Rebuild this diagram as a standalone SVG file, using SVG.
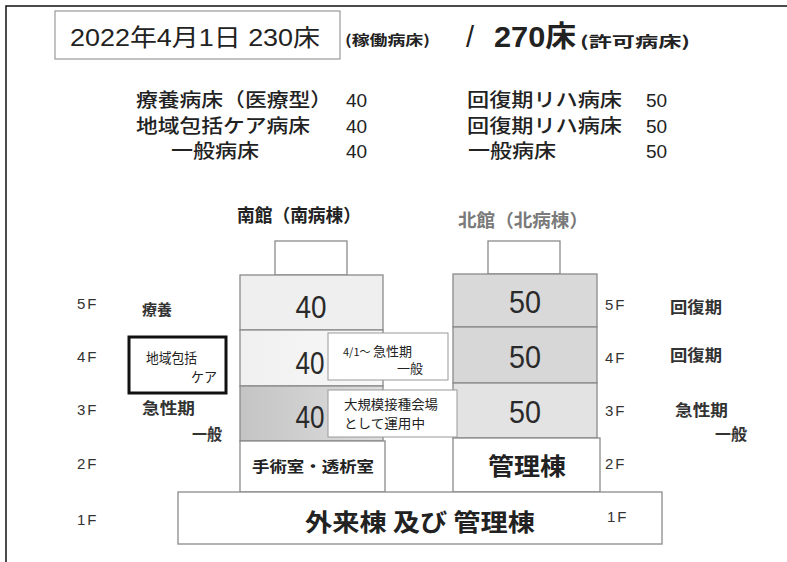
<svg xmlns="http://www.w3.org/2000/svg" width="787" height="562" viewBox="0 0 787 562">
<defs>
<style>
text{font-family:"Liberation Sans","Noto Sans CJK JP",sans-serif;fill:#222;}
.jp{font-family:"Noto Sans CJK JP","Liberation Sans",sans-serif;}
.tb{font-size:19px;font-weight:500;}
.fl{font-size:15px;fill:#333;letter-spacing:2px;}
.lb{font-size:16px;font-weight:bold;fill:#333;}
.num{font-size:31px;text-anchor:middle;fill:#2a2a2a;}
.bx{stroke:#8a8a8a;stroke-width:1.3;}
.cl{fill:#fff;stroke:#999;stroke-width:1;}
</style>
<linearGradient id="g3" x1="0" x2="1" y1="0" y2="0">
<stop offset="0" stop-color="#c4c4c4"/>
<stop offset="1" stop-color="#dedede"/>
</linearGradient>
<linearGradient id="g4" x1="0" x2="1" y1="0" y2="0">
<stop offset="0" stop-color="#f0f0f0"/>
<stop offset="1" stop-color="#f8f8f8"/>
</linearGradient>
</defs>
<rect width="787" height="562" fill="#fff"/>
<g id="frame" fill="none" stroke="#111" stroke-width="1.5">
<path d="M6 562 V6 H787"/>
</g>
<g id="title">
<rect x="55" y="11" width="285" height="48" fill="#fff" stroke="#999" stroke-width="1.2"/>
<text x="70" y="46" font-size="24" textLength="250" lengthAdjust="spacingAndGlyphs" fill="#111">2022年4月1日 230床</text>
<text x="345" y="45" font-size="14" class="jp" textLength="85" lengthAdjust="spacingAndGlyphs" font-weight="bold">(稼働病床)</text>
<text x="466" y="47" font-size="29" fill="#333">/</text>
<text x="494" y="47" font-size="29" font-weight="bold" textLength="82" lengthAdjust="spacingAndGlyphs" fill="#333">270床</text>
<text x="580" y="47" font-size="15" class="jp" font-weight="bold" textLength="110" lengthAdjust="spacingAndGlyphs" fill="#333">(許可病床)</text>
</g>
<g id="table" class="jp">
<text class="tb" x="136" y="107" textLength="196" lengthAdjust="spacingAndGlyphs">療養病床（医療型）</text>
<text class="tb" x="346" y="107">40</text>
<text class="tb" x="467" y="107" textLength="155" lengthAdjust="spacingAndGlyphs">回復期リハ病床</text>
<text class="tb" x="646" y="107">50</text>
<text class="tb" x="136" y="133" textLength="174" lengthAdjust="spacingAndGlyphs">地域包括ケア病床</text>
<text class="tb" x="346" y="133">40</text>
<text class="tb" x="467" y="133" textLength="155" lengthAdjust="spacingAndGlyphs">回復期リハ病床</text>
<text class="tb" x="646" y="133">50</text>
<text class="tb" x="171" y="158" textLength="88" lengthAdjust="spacingAndGlyphs">一般病床</text>
<text class="tb" x="346" y="158">40</text>
<text class="tb" x="468" y="158" textLength="88" lengthAdjust="spacingAndGlyphs">一般病床</text>
<text class="tb" x="646" y="158">50</text>
</g>
<g id="south-title"><text class="jp" x="237" y="222" font-size="18" font-weight="bold" textLength="124" lengthAdjust="spacingAndGlyphs">南館（南病棟）</text></g>
<g id="north-title"><text class="jp" x="458" y="227" font-size="18" font-weight="bold" textLength="130" lengthAdjust="spacingAndGlyphs" style="fill:#7a7a7a">北館（北病棟）</text></g>
<g id="south-roof"><rect class="bx" x="275" y="241" width="72" height="34" fill="#fff"/></g>
<g id="north-roof"><rect class="bx" x="488" y="241" width="72" height="33" fill="#fff"/></g>
<g id="south-5f"><rect class="bx" x="240" y="275" width="143" height="55" fill="#efefef"/><text class="num" x="311" y="318" textLength="31" lengthAdjust="spacingAndGlyphs">40</text></g>
<g id="south-4f"><rect class="bx" x="240" y="330" width="143" height="56" fill="url(#g4)"/><text class="num" x="310" y="374" textLength="29" lengthAdjust="spacingAndGlyphs">40</text></g>
<g id="south-3f"><rect class="bx" x="240" y="386" width="143" height="55" fill="url(#g3)"/><text class="num" x="310" y="428" textLength="29" lengthAdjust="spacingAndGlyphs">40</text></g>
<g id="south-2f"><rect class="bx" x="240" y="441" width="145" height="51" fill="#fff"/><text class="jp" x="313" y="472" font-size="15" font-weight="bold" text-anchor="middle" textLength="122" lengthAdjust="spacingAndGlyphs">手術室・透析室</text></g>
<g id="north-5f"><rect class="bx" x="453" y="274" width="144" height="53" fill="#d9d9d9"/><text class="num" x="525" y="313" textLength="32" lengthAdjust="spacingAndGlyphs">50</text></g>
<g id="north-4f"><rect class="bx" x="453" y="327" width="144" height="56" fill="#d7d7d7"/><text class="num" x="525" y="368" textLength="32" lengthAdjust="spacingAndGlyphs">50</text></g>
<g id="north-3f"><rect class="bx" x="453" y="383" width="144" height="55" fill="#e3e3e3"/><text class="num" x="525" y="423" textLength="32" lengthAdjust="spacingAndGlyphs">50</text></g>
<g id="north-2f"><rect class="bx" x="453" y="438" width="147" height="54" fill="#fff"/><text class="jp" x="527" y="475" font-size="24" font-weight="bold" text-anchor="middle" textLength="78" lengthAdjust="spacingAndGlyphs">管理棟</text></g>
<g id="first-floor"><rect class="bx" x="178" y="492" width="484" height="52" fill="#fff"/><text class="jp" x="420" y="531" font-size="24" font-weight="bold" text-anchor="middle" textLength="230" lengthAdjust="spacingAndGlyphs">外来棟 及び 管理棟</text></g>
<g id="callout-1"><rect class="cl" x="328" y="333" width="120" height="47"/>
<text class="jp" x="343" y="356" font-size="11" fill="#222">4/1～ <tspan font-size="13">急性期</tspan></text>
<text class="jp" x="397" y="373" font-size="13">一般</text></g>
<g id="callout-2"><rect class="cl" x="328" y="390" width="129" height="47"/>
<text class="jp" x="344" y="409" font-size="13" textLength="94" lengthAdjust="spacingAndGlyphs">大規模接種会場</text>
<text class="jp" x="344" y="428" font-size="13" textLength="81" lengthAdjust="spacingAndGlyphs">として運用中</text></g>
<g id="left-labels">
<text class="fl" x="77" y="309">5F</text>
<text class="fl" x="77" y="362">4F</text>
<text class="fl" x="77" y="415">3F</text>
<text class="fl" x="77" y="469">2F</text>
<text class="fl" x="77" y="525">1F</text>
<text class="lb jp" x="142" y="315" style="font-size:15px">療養</text>
<text class="lb jp" x="142" y="414" textLength="53" lengthAdjust="spacingAndGlyphs">急性期</text>
<text class="lb jp" x="192" y="440" textLength="30" lengthAdjust="spacingAndGlyphs">一般</text>
</g>
<g id="chiiki-box"><rect x="129" y="337" width="97" height="56" fill="#fff" stroke="#111" stroke-width="3"/>
<text class="jp" x="146" y="363" font-size="13.5" textLength="51" lengthAdjust="spacingAndGlyphs">地域包括</text>
<text class="jp" x="191" y="382" font-size="13.5" textLength="26" lengthAdjust="spacingAndGlyphs">ケア</text></g>
<g id="right-labels">
<text class="fl" x="605" y="310">5F</text>
<text class="fl" x="605" y="363">4F</text>
<text class="fl" x="605" y="416">3F</text>
<text class="fl" x="605" y="469">2F</text>
<text class="fl" x="607" y="522">1F</text>
<text class="lb jp" x="670" y="313" textLength="52" lengthAdjust="spacingAndGlyphs">回復期</text>
<text class="lb jp" x="670" y="361" textLength="52" lengthAdjust="spacingAndGlyphs">回復期</text>
<text class="lb jp" x="675" y="416" textLength="53" lengthAdjust="spacingAndGlyphs">急性期</text>
<text class="lb jp" x="715" y="440" textLength="32" lengthAdjust="spacingAndGlyphs">一般</text>
</g>
</svg>
